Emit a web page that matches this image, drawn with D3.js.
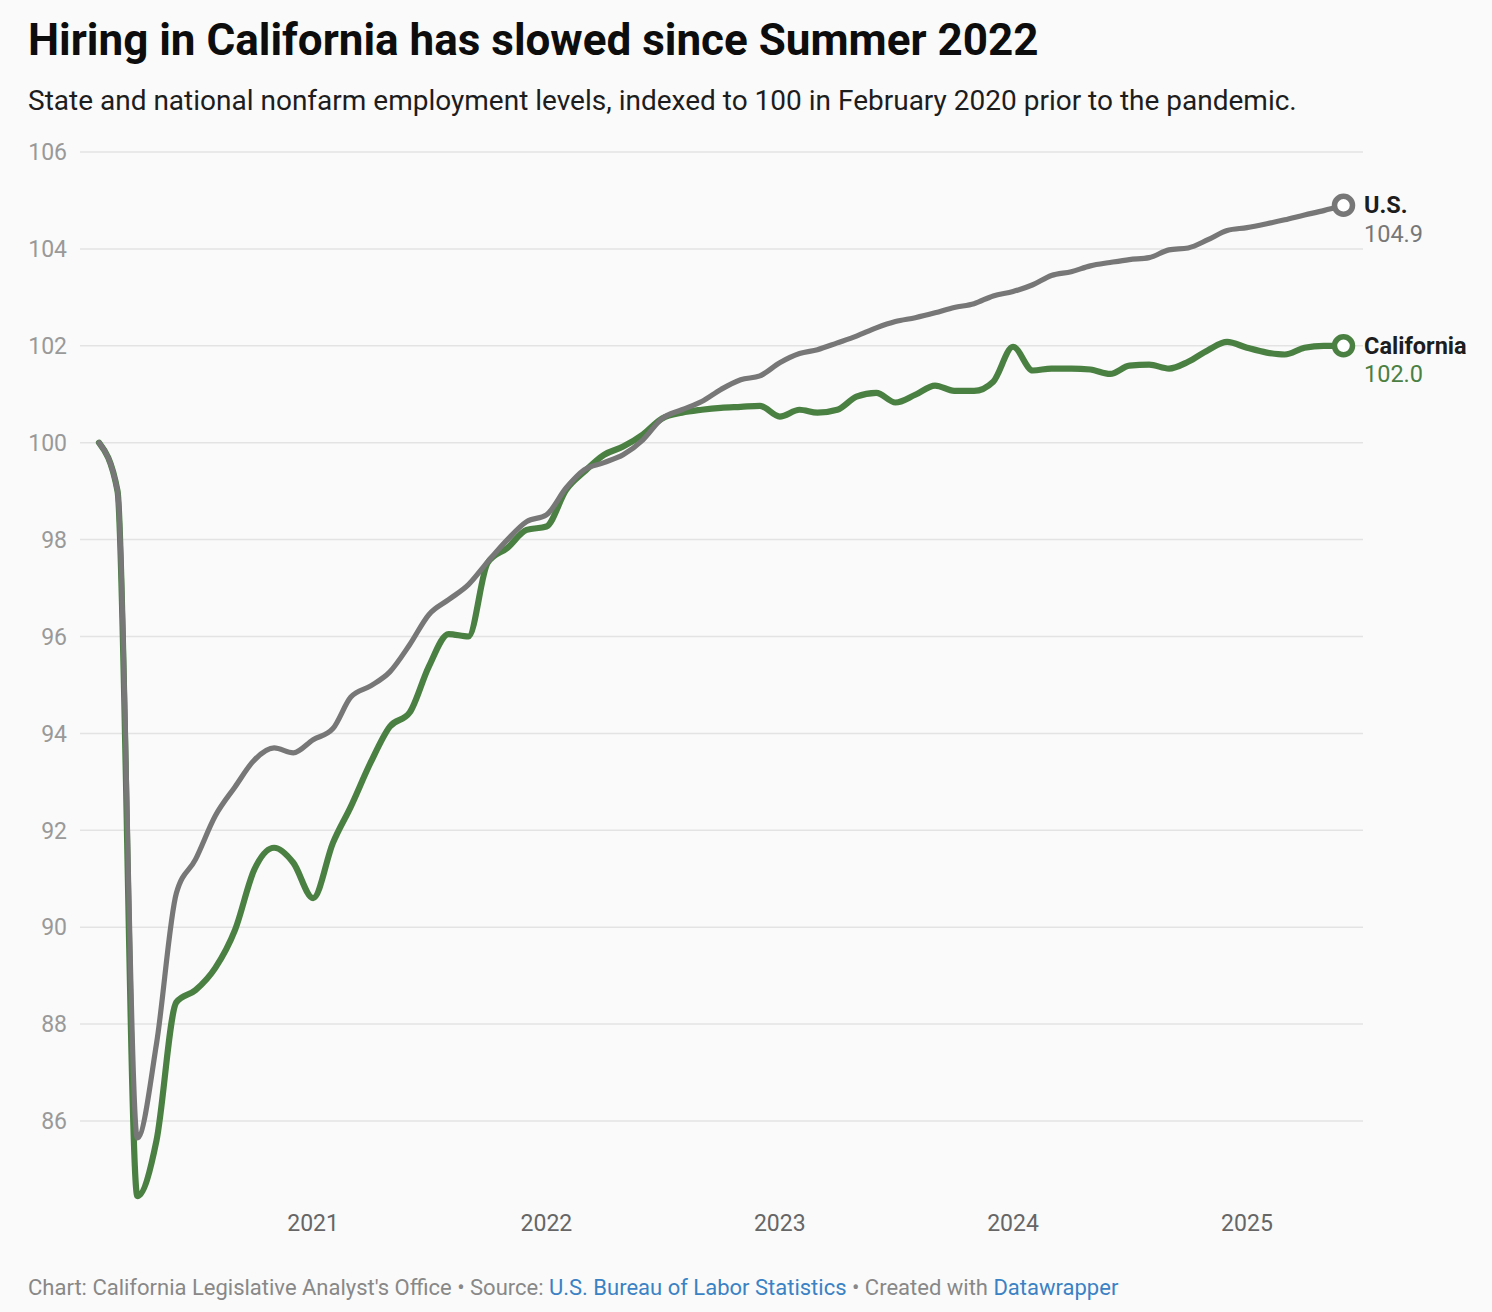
<!DOCTYPE html>
<html>
<head>
<meta charset="utf-8">
<script src="https://cdn.jsdelivr.net/npm/d3@7"></script>
<style>
  html, body { margin: 0; padding: 0; background: #fafafa; }
  svg { display: block; font-family: Roboto, "Noto Sans", sans-serif; }
</style>
</head>
<body>
<svg id="chart" width="1492" height="1312"></svg>
<script>
// ---- Data ----
const startMonth = "2020-02";
const endMonth = "2025-06";
const usValues = [
  100.0, 99.0, 85.65, 87.6, 90.7, 91.4, 92.3, 92.9, 93.45, 93.7, 93.6,
  93.87, 94.1, 94.75, 94.98, 95.27, 95.83, 96.45, 96.76, 97.07, 97.54, 98.0, 98.37,
  98.51, 99.07, 99.44, 99.59, 99.75, 100.06, 100.5, 100.68, 100.85, 101.1, 101.3, 101.38,
  101.65, 101.84, 101.92, 102.06, 102.2, 102.37, 102.5, 102.58, 102.68, 102.79, 102.87, 103.03,
  103.12, 103.26, 103.45, 103.53, 103.65, 103.72, 103.78, 103.82, 103.98, 104.02, 104.19, 104.38,
  104.44, 104.52, 104.6, 104.7, 104.79, 104.9
];
const caValues = [
  100.0, 99.0, 84.45, 85.6, 88.45, 88.7, 89.16, 89.95, 91.19, 91.64, 91.33,
  90.6, 91.74, 92.49, 93.4, 94.14, 94.43, 95.38, 96.05, 96.0, 97.52, 97.83, 98.2,
  98.27, 99.03, 99.4, 99.75, 99.92, 100.17, 100.5, 100.62, 100.68, 100.72, 100.74, 100.76,
  100.54, 100.68, 100.62, 100.68, 100.95, 101.03, 100.83, 100.99, 101.18, 101.07, 101.07, 101.26,
  101.98, 101.49, 101.53, 101.53, 101.51, 101.42, 101.59, 101.61, 101.53, 101.67, 101.91, 102.08,
  101.96, 101.86, 101.82, 101.96, 102.0, 102.0
];
const yTicks = [86, 88, 90, 92, 94, 96, 98, 100, 102, 104, 106];
const xTickYears = ["2021", "2022", "2023", "2024", "2025"];
const seriesNames = ["California", "U.S."];
const endLabels = ["102.0", "104.9"];

// ---- Setup ----
const parseMonth = d3.timeParse("%Y-%m");
const months = d3.timeMonth.range(parseMonth(startMonth), d3.timeMonth.offset(parseMonth(endMonth), 1));
const svg = d3.select("#chart");

const x = d3.scaleTime()
  .domain([parseMonth(startMonth), parseMonth(endMonth)])
  .range([99, 1343.5]);
const y = d3.scaleLinear().domain([86, 106]).range([1121, 152]);

const colors = { "California": "#4a8042", "U.S.": "#777777" };
const widths = { "California": 6.2, "U.S.": 5.2 };

// Title & subtitle
svg.append("text").attr("x", 28).attr("y", 55)
  .attr("font-size", 44).attr("font-weight", 700).attr("fill", "#0d0d0d")
  .text("Hiring in California has slowed since Summer 2022");
svg.append("text").attr("x", 28).attr("y", 110)
  .attr("font-size", 28).attr("fill", "#1d1d1d")
  .text("State and national nonfarm employment levels, indexed to 100 in February 2020 prior to the pandemic.");

// Gridlines & y labels
const yAxis = svg.append("g");
yAxis.selectAll("line").data(yTicks).join("line")
  .attr("x1", 80).attr("x2", 1363)
  .attr("y1", d => y(d)).attr("y2", d => y(d))
  .attr("stroke", "#e3e3e3").attr("stroke-width", 1.5);
yAxis.selectAll("text").data(yTicks).join("text")
  .attr("x", 67).attr("y", d => y(d)).attr("dy", "0.36em")
  .attr("text-anchor", "end").attr("font-size", 23).attr("fill", "#999")
  .text(d => d);

// X axis labels
const xAxis = svg.append("g");
xAxis.selectAll("text").data(xTickYears).join("text")
  .attr("x", d => x(d3.timeParse("%Y")(d)))
  .attr("y", 1223).attr("dy", "0.36em")
  .attr("text-anchor", "middle").attr("font-size", 23).attr("fill", "#666")
  .text(d => d);

// Lines
const seriesData = {
  "California": months.map((m, i) => ({ date: m, value: caValues[i] })),
  "U.S.": months.map((m, i) => ({ date: m, value: usValues[i] }))
};
const line = d3.line().x(d => x(d.date)).y(d => y(d.value)).curve(d3.curveMonotoneX);

seriesNames.forEach(name => {
  svg.append("path").datum(seriesData[name])
    .attr("d", line).attr("fill", "none")
    .attr("stroke", colors[name]).attr("stroke-width", widths[name])
    .attr("stroke-linejoin", "round").attr("stroke-linecap", "round");
});

// End markers & labels
seriesNames.forEach((name, k) => {
  const last = seriesData[name][seriesData[name].length - 1];
  const cx = x(last.date), cy = y(last.value);
  svg.append("circle").attr("cx", cx).attr("cy", cy).attr("r", 9)
    .attr("fill", "#fff").attr("stroke", colors[name]).attr("stroke-width", 5.5);
  svg.append("text").attr("x", 1364).attr("y", cy).attr("dy", "0.33em")
    .attr("font-size", 23.5).attr("font-weight", 700).attr("fill", "#1d1d1d")
    .text(name);
  svg.append("text").attr("x", 1364).attr("y", cy + 28.5).attr("dy", "0.33em")
    .attr("font-size", 23.5).attr("fill", colors[name])
    .text(endLabels[k]);
});

// Footer
const foot = svg.append("text").attr("x", 28).attr("y", 1295)
  .attr("font-size", 22).attr("fill", "#888");
foot.append("tspan").text("Chart: California Legislative Analyst's Office • Source: ");
foot.append("tspan").attr("fill", "#3a82c4").text("U.S. Bureau of Labor Statistics");
foot.append("tspan").text(" • Created with ");
foot.append("tspan").attr("fill", "#3a82c4").text("Datawrapper");
</script>
</body>
</html>
